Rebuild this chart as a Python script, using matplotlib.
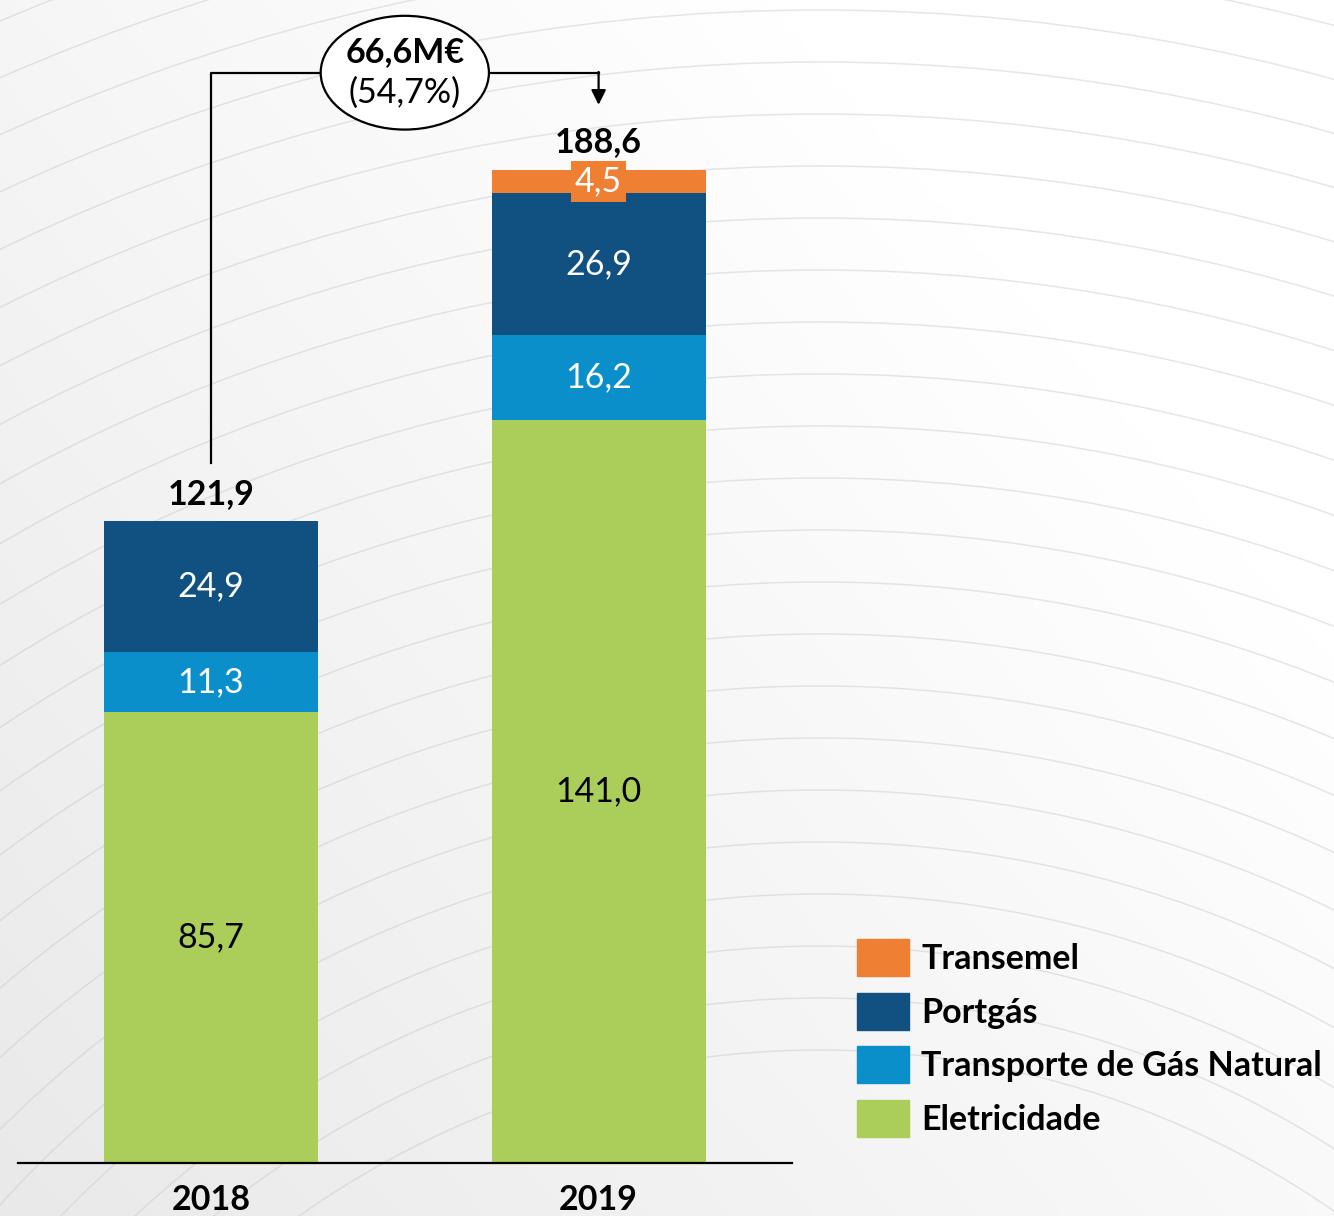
import matplotlib
matplotlib.use("Agg")
import matplotlib.pyplot as plt
from matplotlib.patches import Ellipse, Patch, Circle
import numpy as np

plt.rcParams['font.family'] = ['Lato', 'DejaVu Sans']

# dados
anos = ["2018", "2019"]
series = ["Eletricidade", "Transporte de Gás Natural", "Portgás", "Transemel"]
valores = {
    "Eletricidade": [85.7, 141.0],
    "Transporte de Gás Natural": [11.3, 16.2],
    "Portgás": [24.9, 26.9],
    "Transemel": [0.0, 4.5],
}
totais = [121.9, 188.6]
variacao = "66,6M€"
variacao_pct = "(54,7%)"

cores = {
    "Eletricidade": "#AACE59",
    "Transporte de Gás Natural": "#0A8FCB",
    "Portgás": "#115182",
    "Transemel": "#EE7F33",
}
cor_texto = {
    "Eletricidade": "black",
    "Transporte de Gás Natural": "white",
    "Portgás": "white",
    "Transemel": "white",
}

FS = 24.5
W, H = 1334, 1216
fig = plt.figure(figsize=(W / 100, H / 100), dpi=100)

# fundo com gradiente e arcos
bg = fig.add_axes([0, 0, 1, 1], zorder=-10)
xx, yy = np.meshgrid(np.linspace(0, 1, 200), np.linspace(0, 1, 200))
t = np.clip(xx * 0.7 + (1 - yy) * 0.55 + 0.05, 0, 1)
g = 0.91 + 0.09 * t
bg.imshow(np.dstack([g, g, g]), extent=(0, W, H, 0), aspect='auto', interpolation='bilinear')
for r in np.arange(900, 2300, 52):
    bg.add_patch(Circle((820, 1950), r, fill=False, ec="#c8c8c8", lw=1.1, alpha=0.45))
bg.set_xlim(0, W)
bg.set_ylim(H, 0)
bg.axis('off')

# eixo principal
ax = fig.add_axes([18 / W, (H - 1163) / H, (792 - 18) / W, 1163 / H])
ax.set_facecolor('none')
ax.set_xlim(-0.498, 1.499)
ax.set_ylim(0, 220.8)

x = np.arange(len(anos))
largura = 0.552
base = np.zeros(len(anos))
for s in series:
    v = np.array(valores[s])
    ax.bar(x, v, largura, bottom=base, color=cores[s], zorder=2)
    for i in range(len(anos)):
        if v[i] <= 0:
            continue
        yc = base[i] + v[i] / 2
        rot = f"{v[i]:.1f}".replace(".", ",")
        if s == "Transemel":
            ax.text(x[i], yc, rot, ha='center', va='center', fontsize=FS, color='white', zorder=4,
                    bbox=dict(boxstyle='square,pad=0.12', fc=cores[s], ec='none'))
        else:
            ax.text(x[i], yc, rot, ha='center', va='center',
                    fontsize=FS, color=cor_texto[s], zorder=3)
    base += v

for i, tot in enumerate(totais):
    ax.annotate(f"{tot:.1f}".replace(".", ","), (x[i], tot), xytext=(0, 8),
                textcoords='offset points', ha='center', va='bottom',
                fontsize=FS, fontweight='bold')

# seta de variação
y_linha = 207.0
ax.plot([0, 0, 0.283], [132.9, y_linha, y_linha], color='black', lw=1.6, zorder=3)
ax.plot([0.717, 1], [y_linha, y_linha], color='black', lw=1.6, zorder=3)
ax.annotate("", xy=(1, 200.9), xytext=(1, y_linha + 0.15),
            arrowprops=dict(arrowstyle='-|>', color='black', lw=1.6,
                            mutation_scale=22, shrinkA=0, shrinkB=0))
ax.add_patch(Ellipse((0.5, y_linha), 0.434, 21.6, fc='white', ec='black', lw=1.6, zorder=4))
ax.text(0.5, y_linha + 4.0, variacao, ha='center', va='center', fontsize=FS,
        fontweight='bold', zorder=5)
ax.text(0.5, y_linha - 3.9, variacao_pct, ha='center', va='center', fontsize=FS, zorder=5)

# eixos
for sp in ['top', 'right', 'left']:
    ax.spines[sp].set_visible(False)
ax.spines['bottom'].set_linewidth(1.6)
ax.set_yticks([])
ax.set_xticks(x)
ax.set_xticklabels(anos, fontsize=FS, fontweight='bold')
ax.tick_params(axis='x', length=0, pad=15)

# legenda
handles = [Patch(color=cores[s], label=s) for s in reversed(series)]
leg = fig.legend(handles=handles, loc='upper left', bbox_to_anchor=(854 / W, 1 - 936 / H),
                 frameon=False, fontsize=FS, handlelength=1.53, handleheight=1.3,
                 handletextpad=0.35, labelspacing=0.48, borderpad=0.1, borderaxespad=0)
for txt in leg.get_texts():
    txt.set_fontweight('bold')

fig.savefig("out.png", dpi=100)
